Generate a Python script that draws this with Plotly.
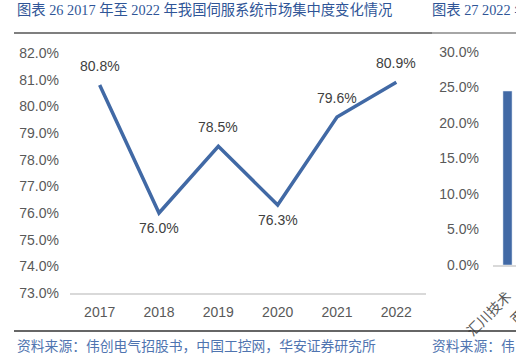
import plotly.graph_objects as go

# ---------------- data ----------------
years = ["2017", "2018", "2019", "2020", "2021", "2022"]
concentration = [80.8, 76.0, 78.5, 76.3, 79.6, 80.9]
left_tickvals = [73, 74, 75, 76, 77, 78, 79, 80, 81, 82]

share_companies = ["汇川技术"]
share_values = [24.5]
right_tickvals = [0, 5, 10, 15, 20, 25, 30]

title_left = "图表 26 2017 年至 2022 年我国伺服系统市场集中度变化情况"
title_right = "图表 27 2022 年"
source_left = "资料来源：伟创电气招股书，中国工控网，华安证券研究所"
source_right = "资料来源：伟"
clipped_label = "西门子"

# ---------------- style ----------------
W, H = 516, 362
BLUE = "#4169A5"
TICK = "#595959"
LABEL = "#404040"
SANS = "Liberation Sans, Arial, sans-serif"
CJK_SERIF = "Liberation Serif, Noto Sans CJK SC, serif"
CJK = "Noto Sans CJK SC, sans-serif"


def px(x):
    return x / W


def py(y):
    return 1 - y / H


def pct(vals):
    return [f"{v:.1f}%" for v in vals]


fig = go.Figure()

fig.add_trace(go.Scatter(
    x=years, y=concentration, mode="lines",
    line=dict(color=BLUE, width=3.5),
    xaxis="x", yaxis="y", hoverinfo="skip", showlegend=False,
))

fig.add_trace(go.Bar(
    x=share_companies, y=share_values, marker_color=BLUE, width=0.35,
    xaxis="x2", yaxis="y2", hoverinfo="skip", showlegend=False,
))

annotations = []
n = len(concentration)
for i, v in enumerate(concentration):
    left = concentration[i - 1] if i > 0 else float("inf")
    right = concentration[i + 1] if i < n - 1 else float("inf")
    below = v < left and v < right
    annotations.append(dict(
        x=i, y=v, xref="x", yref="y", text=f"{v:.1f}%", showarrow=False,
        yshift=-15 if below else 19,
        font=dict(family=SANS, size=14, color=LABEL),
    ))

# titles and sources
annotations += [
    dict(x=px(15), y=py(10), xref="paper", yref="paper", xanchor="left", yanchor="middle",
         text=title_left, showarrow=False,
         font=dict(family=CJK_SERIF, size=14.3, color="#2F5597")),
    dict(x=px(430), y=py(10), xref="paper", yref="paper", xanchor="left", yanchor="middle",
         text=title_right, showarrow=False,
         font=dict(family=CJK_SERIF, size=14.3, color="#2F5597")),
    dict(x=px(15), y=py(345), xref="paper", yref="paper", xanchor="left", yanchor="middle",
         text=source_left, showarrow=False,
         font=dict(family=CJK, size=13.8, color="#4F74B0")),
    dict(x=px(430), y=py(345), xref="paper", yref="paper", xanchor="left", yanchor="middle",
         text=source_right, showarrow=False,
         font=dict(family=CJK, size=13.8, color="#4F74B0")),
    dict(x=px(552), y=py(281), xref="paper", yref="paper", xanchor="right", yanchor="top",
         text=clipped_label, showarrow=False, textangle=-45,
         font=dict(family=CJK, size=14, color=TICK)),
]

shapes = [
    dict(type="line", xref="paper", yref="paper", x0=px(14), x1=px(432), y0=py(33), y1=py(33),
         line=dict(color="#7F7F7F", width=2)),
    dict(type="line", xref="paper", yref="paper", x0=px(432), x1=1, y0=py(33), y1=py(33),
         line=dict(color="#A6A6A6", width=2)),
    dict(type="line", xref="paper", yref="paper", x0=px(14), x1=1, y0=py(331), y1=py(331),
         line=dict(color="#333333", width=1.5)),
]

fig.update_layout(
    width=W, height=H, autosize=False,
    margin=dict(l=0, r=0, t=0, b=0, pad=0),
    paper_bgcolor="white", plot_bgcolor="white",
    showlegend=False,
    annotations=annotations, shapes=shapes,
    xaxis=dict(
        domain=[px(70), px(426)], type="category", range=[-0.5, 5.5],
        showline=True, linecolor="#D9D9D9", linewidth=1.5, ticks="",
        showgrid=False, zeroline=False, ticklabelstandoff=5, automargin=False,
        tickfont=dict(family=SANS, size=14, color=TICK), fixedrange=True,
    ),
    yaxis=dict(
        domain=[py(293), py(53)], range=[73, 82], tickvals=left_tickvals,
        ticktext=pct(left_tickvals), showgrid=False, zeroline=False,
        showline=False, ticks="", ticklabelstandoff=10, automargin=False,
        tickfont=dict(family=SANS, size=14, color=TICK), fixedrange=True,
    ),
    xaxis2=dict(
        domain=[px(493), 1], type="category", range=[-0.558, 0.327],
        anchor="y2", showline=True, linecolor="#D9D9D9", linewidth=1.5, ticks="",
        showgrid=False, zeroline=False, tickangle=-45, automargin=False,
        ticklabelstandoff=16,
        tickfont=dict(family=CJK, size=14, color=TICK), fixedrange=True,
    ),
    yaxis2=dict(
        domain=[py(265), py(52)], range=[0, 30], tickvals=right_tickvals, anchor="x2",
        ticktext=pct(right_tickvals), showgrid=False, zeroline=False,
        showline=False, ticks="", ticklabelstandoff=13, automargin=False,
        tickfont=dict(family=SANS, size=14, color=TICK), fixedrange=True,
    ),
)

fig.write_html("out.html", config={"displayModeBar": False},
               post_script="document.body.style.margin='0';")
